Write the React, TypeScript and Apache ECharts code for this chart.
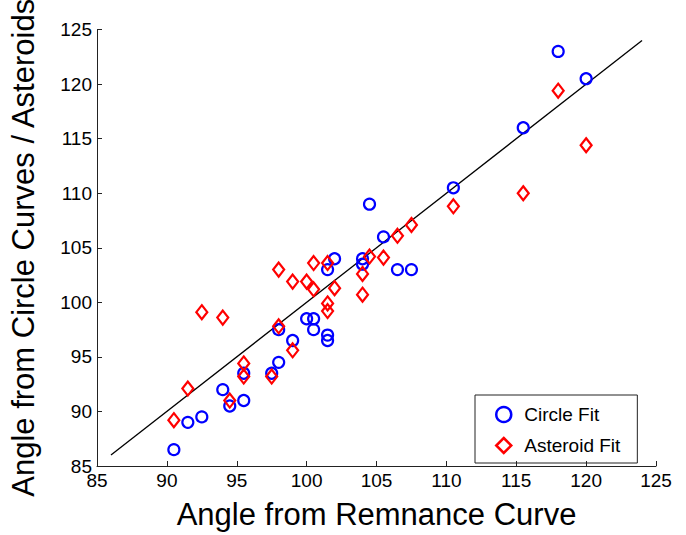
import React, { useEffect, useRef } from "react";
import * as echarts from "echarts";

// Circle Fit points: [remnance angle, circle-curve angle]
const circleFit: [number, number][] = [
  [90.5, 86.5], [91.5, 89], [92.5, 89.5], [94, 92], [94.5, 90.5], [95.5, 91],
  [95.5, 93.5], [97.5, 93.5], [98, 94.5], [98, 97.5], [99, 96.5], [100, 98.5],
  [100.5, 98.5], [100.5, 97.5], [101.5, 97], [101.5, 96.5], [101.5, 103], [102, 104],
  [104, 104], [104, 103.5], [104.5, 109], [105.5, 106], [106.5, 103], [107.5, 103],
  [110.5, 110.5], [115.5, 116], [118, 123], [120, 120.5],
];

// Asteroid Fit points
const asteroidFit: [number, number][] = [
  [90.5, 89.2], [91.5, 92.1], [92.5, 99.1], [94, 98.6], [94.5, 91], [95.5, 94.4],
  [95.5, 93.2], [97.5, 93.2], [98, 103], [98, 97.8], [99, 101.9], [99, 95.6],
  [100, 101.9], [100.5, 103.6], [100.5, 101.2], [101.5, 103.6], [101.5, 99.9], [101.5, 99.2],
  [102, 101.3], [104, 102.6], [104, 100.7], [104.5, 104.2], [105.5, 104.1], [106.5, 106.1],
  [107.5, 107.1], [110.5, 108.8], [115.5, 110], [118, 119.4], [120, 114.4],
];

// identity reference line endpoints
const identityLine: [number, number][] = [[86, 86], [124, 124]];

const axisMin = 85;
const axisMax = 125;
const axisStep = 5;

const FONT = "'Liberation Sans', Arial, Helvetica, sans-serif";

export default function App() {
  const ref = useRef<HTMLDivElement>(null);

  useEffect(() => {
    if (!ref.current) return;
    const chart = echarts.init(ref.current, undefined, { renderer: "svg" });
    const axisCommon = {
      type: "value" as const,
      min: axisMin,
      max: axisMax,
      interval: axisStep,
      splitLine: { show: false },
      axisLine: { show: true, lineStyle: { color: "#222", width: 1 } },
      axisTick: { show: true, inside: true, length: 5, lineStyle: { color: "#222" } },
      axisLabel: { color: "#000", fontSize: 19, fontFamily: FONT, margin: 5, showMinLabel: true, showMaxLabel: true },
      nameLocation: "middle" as const,
      nameTextStyle: { color: "#000", fontSize: 31, fontFamily: FONT },
    };
    chart.setOption({
      animation: false,
      backgroundColor: "#fff",
      grid: { left: 88, right: 30, top: 28, bottom: 59, containLabel: false },
      xAxis: { ...axisCommon, name: "Angle from Remnance Curve", nameGap: 33 },
      yAxis: { ...axisCommon, name: "Angle from Circle Curves / Asteroids", nameGap: 58 },
      legend: {
        orient: "vertical",
        left: 475,
        top: 395,
        width: 130,
        borderColor: "#222",
        borderWidth: 1,
        padding: [10, 17, 8, 20],
        itemWidth: 15,
        itemHeight: 15,
        itemGap: 12,
        textStyle: { color: "#000", fontSize: 19, fontFamily: FONT, padding: [0, 0, 0, 8] },
        data: [
          { name: "Circle Fit", icon: "circle", itemStyle: { color: "rgba(0,0,0,0)", borderColor: "#0000ff", borderWidth: 2.5 } },
          { name: "Asteroid Fit", icon: "diamond", itemStyle: { color: "rgba(0,0,0,0)", borderColor: "#ff0000", borderWidth: 2.5 } },
        ],
      },
      series: [
        {
          type: "line",
          name: "identity",
          data: identityLine,
          symbol: "none",
          lineStyle: { color: "#000", width: 1.3 },
          z: 1,
        },
        {
          type: "scatter",
          name: "Circle Fit",
          data: circleFit,
          symbol: "circle",
          symbolSize: 11,
          itemStyle: { color: "rgba(0,0,0,0)", borderColor: "#0000ff", borderWidth: 2.2, opacity: 1 },
          z: 2,
        },
        {
          type: "scatter",
          name: "Asteroid Fit",
          data: asteroidFit,
          symbol: "diamond",
          symbolSize: [11, 14],
          itemStyle: { color: "rgba(0,0,0,0)", borderColor: "#ff0000", borderWidth: 2.2, opacity: 1 },
          z: 3,
        },
      ],
    });
    return () => chart.dispose();
  }, []);

  return <div ref={ref} style={{ width: 686, height: 535, position: "absolute", left: 0, top: 0 }} />;
}
